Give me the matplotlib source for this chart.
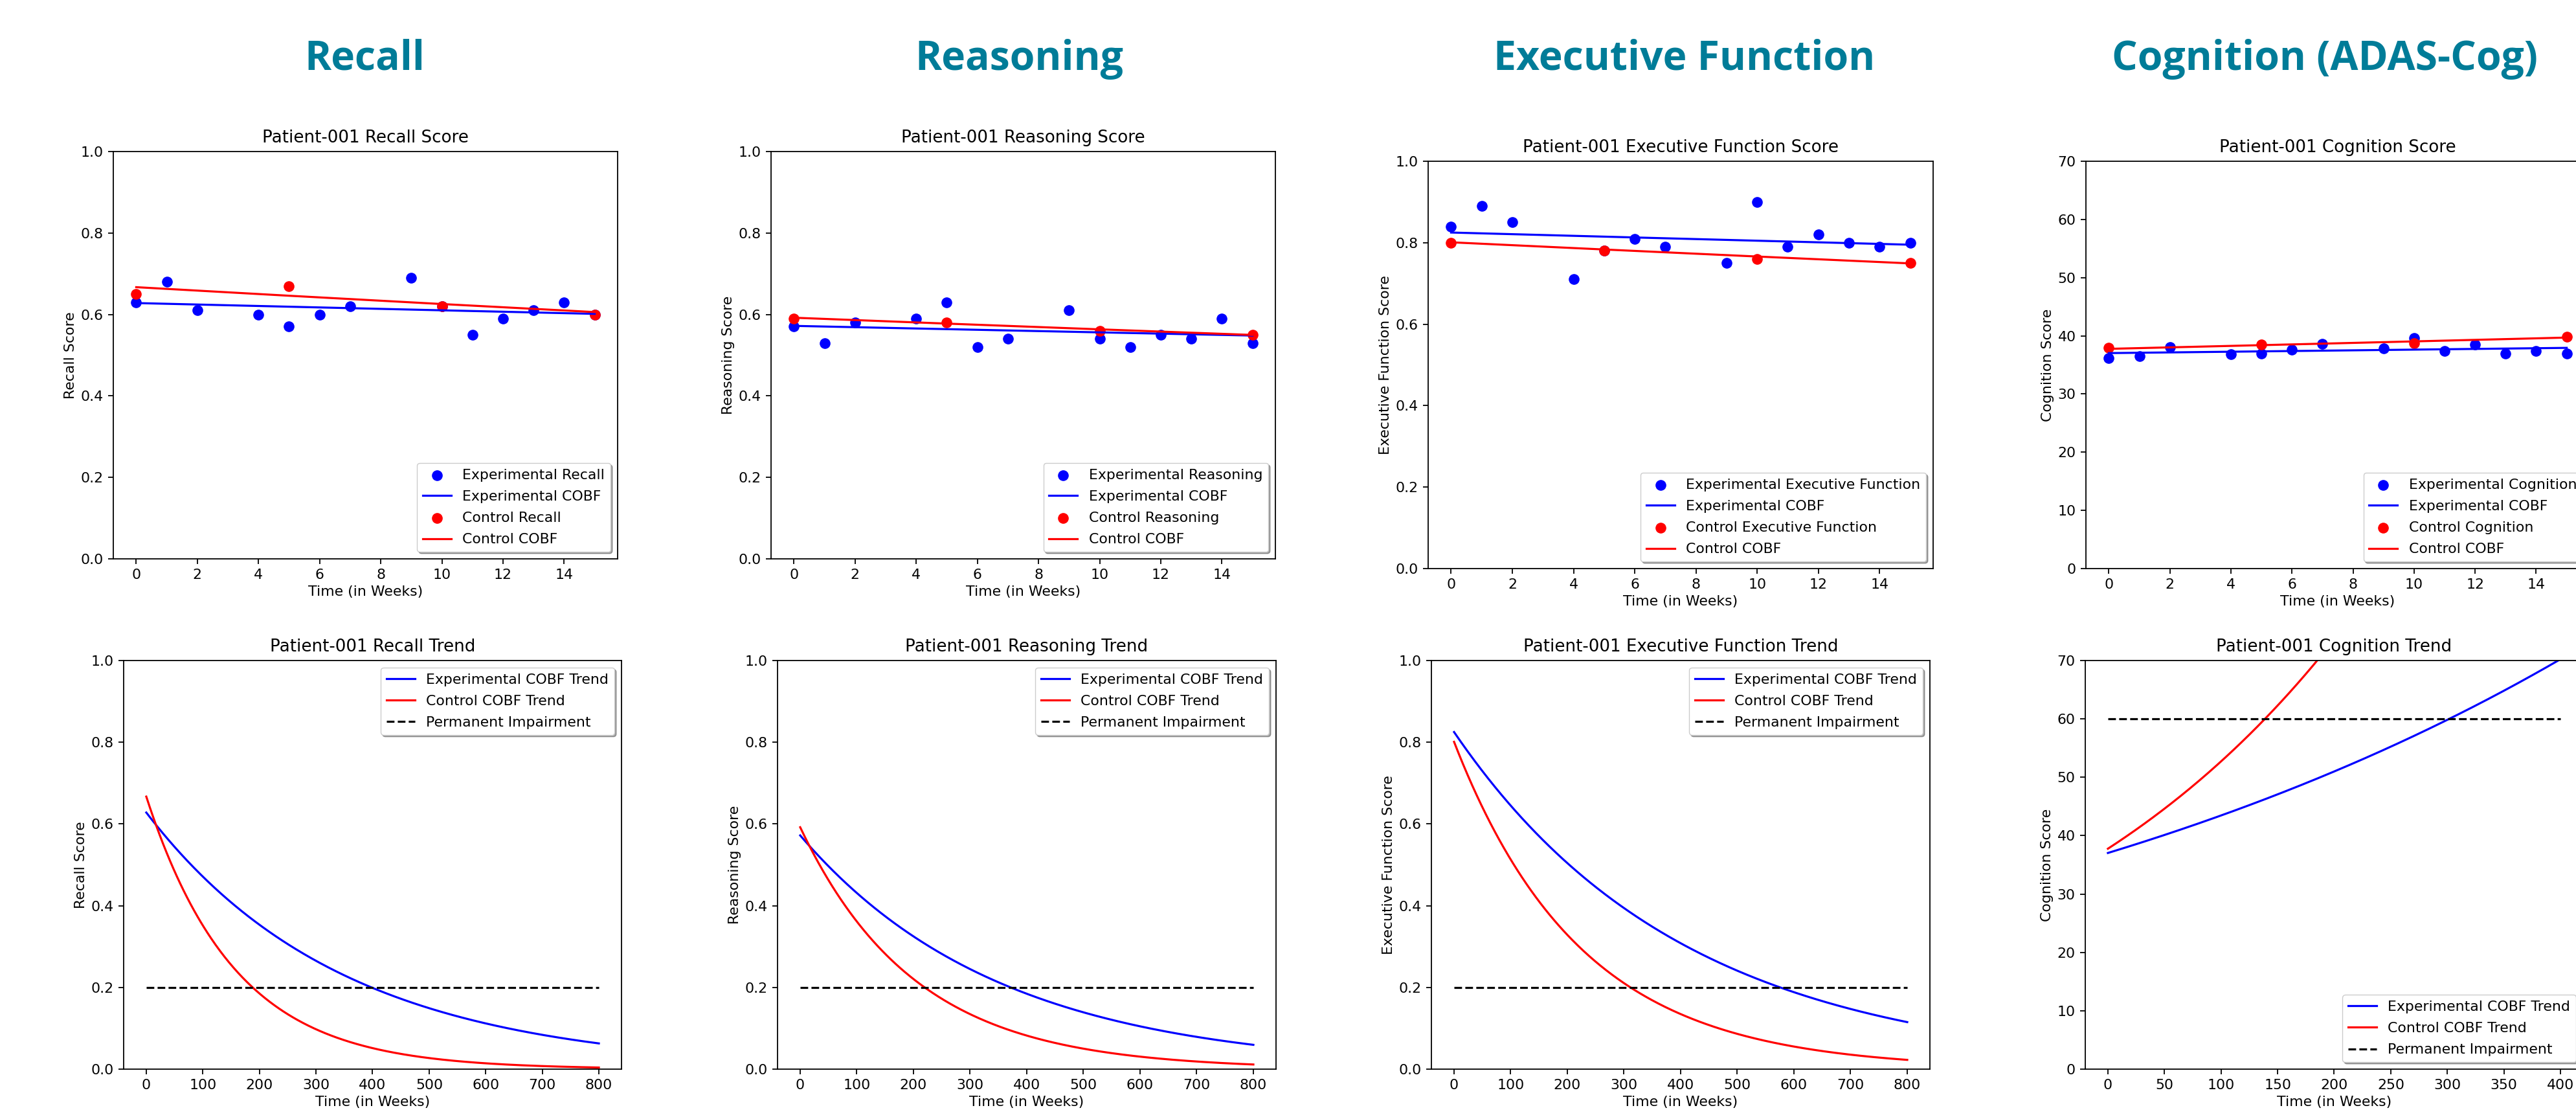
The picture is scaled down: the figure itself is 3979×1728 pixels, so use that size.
import numpy as np
import matplotlib
matplotlib.use("Agg")
import matplotlib.pyplot as plt

W, H = 3980, 1728

# column headings
headings = ["Recall", "Reasoning", "Executive Function", "Cognition (ADAS-Cog)"]
heading_x = [563, 1574, 2602, 3591]
names = ["Recall", "Reasoning", "Executive Function", "Cognition"]

# weeks with measurements
exp_weeks = [0, 1, 2, 4, 5, 6, 7, 9, 10, 11, 12, 13, 14, 15]
ctrl_weeks = [0, 5, 10, 15]

# experimental (blue) scores
recall_exp = [0.63, 0.68, 0.61, 0.60, 0.57, 0.60, 0.62, 0.69, 0.62, 0.55, 0.59, 0.61, 0.63, 0.60]
reasoning_exp = [0.57, 0.53, 0.58, 0.59, 0.63, 0.52, 0.54, 0.61, 0.54, 0.52, 0.55, 0.54, 0.59, 0.53]
exec_exp = [0.84, 0.89, 0.85, 0.71, 0.78, 0.81, 0.79, 0.75, 0.90, 0.79, 0.82, 0.80, 0.79, 0.80]
cog_exp = [36.2, 36.5, 38.1, 36.8, 37.0, 37.6, 38.6, 37.8, 39.6, 37.4, 38.5, 37.0, 37.4, 37.0]

# control (red) scores
recall_ctrl = [0.65, 0.67, 0.62, 0.60]
reasoning_ctrl = [0.59, 0.58, 0.56, 0.55]
exec_ctrl = [0.80, 0.78, 0.76, 0.75]
cog_ctrl = [37.9, 38.5, 38.7, 39.8]

# exponential curve of best fit (start value, weekly rate)
recall_fit = [(0.628, -0.002875), (0.667, -0.006407)]
reasoning_fit = [(0.572, -0.002829), (0.592, -0.004939)]
exec_fit = [(0.825, -0.002462), (0.801, -0.004456)]
cog_fit = [(37.03, 0.0016), (37.76, 0.003337)]

impairment = [0.2, 0.2, 0.2, 60]
trend_end = [800, 800, 800, 400]
ymax = [1.0, 1.0, 1.0, 70]

exp_data = [recall_exp, reasoning_exp, exec_exp, cog_exp]
ctrl_data = [recall_ctrl, reasoning_ctrl, exec_ctrl, cog_ctrl]
fits = [recall_fit, reasoning_fit, exec_fit, cog_fit]

# axes boxes in pixels: left, right, top, bottom
top_boxes = [(175, 954, 234, 863), (1191, 1970, 234, 863),
             (2206, 2986, 249, 878), (3222, 4000, 249, 878)]
bot_boxes = [(191, 960, 1020, 1651), (1201, 1971, 1020, 1651),
             (2211, 2981, 1020, 1651), (3221, 3990, 1020, 1651)]

plt.rcParams.update({
    "font.family": "DejaVu Sans",
    "font.size": 15.8,
    "axes.titlesize": 18.8,
    "axes.titlepad": 10,
    "axes.labelsize": 15.8,
    "xtick.labelsize": 15.8,
    "ytick.labelsize": 15.8,
    "legend.fontsize": 15.8,
    "legend.labelspacing": 0.6,
    "axes.linewidth": 1.3,
    "xtick.major.width": 1.3,
    "ytick.major.width": 1.3,
    "xtick.major.size": 5.5,
    "ytick.major.size": 5.5,
    "xtick.major.pad": 5.5,
    "ytick.major.pad": 5.5,
})


def box_to_rect(b):
    l, r, t, bt = b
    return [l / W, 1 - bt / H, (r - l) / W, (bt - t) / H]


fig = plt.figure(figsize=(W / 100, H / 100), dpi=100)

for i in range(4):
    fig.text(heading_x[i] / W, 1 - 108 / H, headings[i], ha="center", va="baseline",
             fontsize=45, fontweight="bold", family="Open Sans", color="#007C98")

    name = names[i]
    (ea, ek), (ca, ck) = fits[i]

    # weekly scores
    ax = fig.add_axes(box_to_rect(top_boxes[i]))
    wk = np.array(exp_weeks)
    ax.scatter(exp_weeks, exp_data[i], color="blue", s=120, label="Experimental " + name)
    ax.plot(wk, ea * np.exp(ek * wk), color="blue", lw=2.3, label="Experimental COBF")
    cw = np.array(ctrl_weeks)
    ax.scatter(ctrl_weeks, ctrl_data[i], color="red", s=120, label="Control " + name)
    ax.plot(cw, ca * np.exp(ck * cw), color="red", lw=2.3, label="Control COBF")
    ax.set_ylim(0, ymax[i])
    ax.set_xticks(range(0, 15, 2))
    ax.set_title("Patient-001 " + name + " Score")
    ax.set_xlabel("Time (in Weeks)")
    ax.set_ylabel(name + " Score")
    ax.legend(loc="lower right", shadow=True)

    # long-term trend
    ax = fig.add_axes(box_to_rect(bot_boxes[i]))
    t = np.linspace(0, trend_end[i], 400)
    ax.plot(t, ea * np.exp(ek * t), color="blue", lw=2.3, label="Experimental COBF Trend")
    ax.plot(t, ca * np.exp(ck * t), color="red", lw=2.3, label="Control COBF Trend")
    ax.plot([0, trend_end[i]], [impairment[i], impairment[i]], "k--", lw=2.3,
            label="Permanent Impairment")
    ax.set_ylim(0, ymax[i])
    ax.set_title("Patient-001 " + name + " Trend")
    ax.set_xlabel("Time (in Weeks)")
    ax.set_ylabel(name + " Score")
    ax.legend(loc="lower right" if i == 3 else "upper right", shadow=True)

fig.savefig("out.png", dpi=100)
